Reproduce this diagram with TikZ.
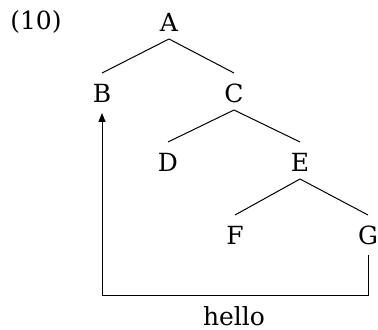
\documentclass[tikz,border=0pt]{standalone}
\usepackage{fontspec}
\setmainfont{DejaVu Serif}
\usetikzlibrary{calc,arrows.meta}
\begin{document}
\begin{tikzpicture}[x=0.5pt,y=-0.5pt,
  lab/.style={inner sep=0pt,font=\fontsize{12.5}{15}\selectfont},
  edge/.style={line width=0.5pt},
  mv/.style={line width=0.5pt,-{Triangle[length=4.5pt,width=3.5pt]}}]
\useasboundingbox (0,0) rectangle (378,330);
\node[lab] (ex) at (36,22) {(10)};
\node[lab] (A) at (169,22) {A};
\node[lab] (B) at (102,93) {B};
\node[lab] (C) at (234,93) {C};
\node[lab] (D) at (168,162) {D};
\node[lab] (E) at (300,162) {E};
\node[lab] (F) at (235,235) {F};
\node[lab] (G) at (368,235) {G};
\node[lab] (h) at (234,316) {hello};
\foreach \p/\c in {A/B,A/C,C/D,C/E,E/F,E/G}
  \draw[edge] ($(\p.center)+(0,17)$) -- ($(\c.center)+(0,-20)$);
\draw[mv] ($(G.center)+(0,20)$) -- ++(0,40) -| ($(B.center)+(0,20)$);
\end{tikzpicture}
\end{document}
